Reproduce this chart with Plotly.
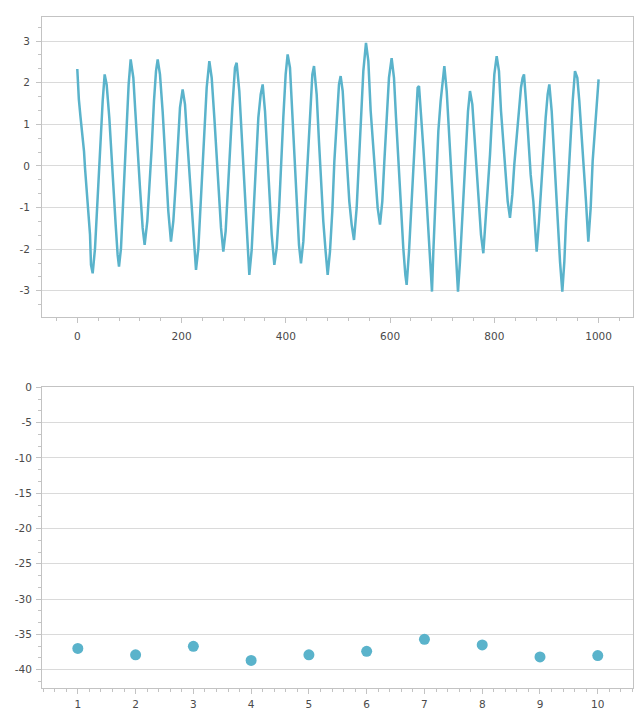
import plotly.graph_objects as go

# ---------------- data ----------------
wave_x = [0, 1, 3, 6, 8.4, 12.9, 14.8, 18, 21.2, 24.4, 26.3, 29.5, 34, 37.2, 42.3, 45.5, 48.7, 52.5,
          56.3, 61.4, 65.9, 69.1, 73.6, 77.4, 80, 83.8, 87, 90.2, 94.7, 98.5, 102.4, 107.5, 111.3,
          115.8, 120.3, 125.4, 129.2, 134.3, 138.2, 142.7, 147.1, 151, 154.2, 158.6, 163.8, 168.2,
          171.4, 174.6, 179.7, 184.2, 188.7, 192.5, 197.0, 202.1, 206.6, 211.1, 216.2, 220.7, 224.5,
          227.7, 232.2, 235.4, 239.8, 243.7, 248.2, 253.3, 257.8, 262.9, 267.4, 271.8, 275.7, 280.1,
          284.6, 288.4, 292.9, 297.4, 302.5, 305.7, 310.8, 315.3, 319.8, 323.6, 326.8, 330.0, 334.5,
          339.3, 342.8, 347.3, 351.8, 355.6, 360.1, 364.5, 368.4, 372.9, 378.0, 382.4, 386.9, 390.8,
          395.2, 399.7, 403.5, 408.0, 411.9, 416.3, 420.8, 425.3, 429.1, 433.6, 438.1, 441.9, 446.4,
          450.9, 454.1, 459.2, 463.6, 467.5, 471.9, 476.4, 480.3, 484.7, 489.2, 493.1, 497.5, 502.0,
          505.2, 509.1, 513.5, 518.0, 521.8, 526.3, 530.8, 535.9, 540.4, 544.2, 548.7, 553.8, 558.3,
          562.8, 567.9, 572.4, 576.2, 580.7, 585.1, 589.0, 593.5, 597.9, 603.0, 607.5, 611.4, 615.8,
          620.9, 625.4, 629.3, 631.8, 636.3, 640.1, 644.6, 649.1, 652.9, 655.5, 659.3, 663.8, 668.3,
          672.1, 676.6, 680.4, 683.0, 686.2, 689.4, 692.6, 697.0, 700.9, 704.1, 708.6, 712.4, 716.2,
          720.1, 723.2, 726.5, 730.3, 734.1, 738.0, 741.8, 745.6, 749.5, 753.3, 757.8, 761.6, 766.1,
          770.6, 774.4, 778.9, 783.4, 787.2, 791.7, 796.1, 800.0, 804.5, 808.9, 812.8, 817.2, 821.7,
          825.6, 830.0, 834.5, 838.3, 842.8, 847.3, 851.1, 854.3, 856.9, 860.7, 865.2, 869.7, 874.8,
          878.0, 881.2, 885.7, 889.5, 894.0, 898.5, 902.3, 905.5, 910.0, 914.4, 918.3, 922.7, 926.0,
          930.4, 934.3, 937.5, 941.9, 946.4, 950.3, 954.7, 959.2, 963.0, 967.5, 972.0, 975.8, 980.3,
          984.8, 988.6, 993.1, 996.3, 1000]
wave_y = [2.33, 1.9, 1.6, 1.2, 0.92, 0.35, -0.05, -0.61, -1.25, -1.65, -2.38, -2.58, -1.98, -1.17,
          -0.21, 0.76, 1.56, 2.2, 1.96, 1.16, 0.11, -0.69, -1.41, -2.14, -2.42, -1.98, -1.09, -0.21,
          0.92, 1.96, 2.56, 2.12, 1.32, 0.27, -0.53, -1.49, -1.9, -1.33, -0.61, 0.43, 1.56, 2.28,
          2.56, 2.2, 1.3, 0.2, -0.45, -1.09, -1.82, -1.33, -0.45, 0.51, 1.40, 1.84, 1.48, 0.59,
          -0.37, -1.33, -2.06, -2.50, -1.98, -1.17, -0.05, 0.92, 1.88, 2.52, 2.12, 1.16, 0.11,
          -0.69, -1.49, -2.06, -1.57, -0.69, 0.43, 1.40, 2.36, 2.48, 1.80, 0.76, -0.29, -1.09,
          -1.82, -2.62, -2.02, -0.77, 0.11, 1.16, 1.72, 1.96, 1.32, 0.19, -0.85, -1.65, -2.38,
          -1.98, -1.09, 0.11, 1.16, 2.20, 2.68, 2.36, 1.32, 0.11, -0.85, -1.90, -2.34, -1.82,
          -0.77, 0.19, 1.16, 2.20, 2.40, 1.72, 0.59, -0.37, -1.33, -2.06, -2.62, -2.06, -1.09,
          0.11, 1.16, 1.96, 2.16, 1.80, 0.84, -0.05, -0.85, -1.41, -1.78, -1.01, 0.11, 1.24, 2.28,
          2.96, 2.52, 1.32, 0.35, -0.37, -1.01, -1.41, -0.85, 0.11, 1.16, 2.12, 2.59, 2.12, 1.16,
          0.11, -0.85, -1.98, -2.62, -2.86, -2.06, -1.09, 0.11, 1.24, 1.88, 1.92, 1.32, 0.43,
          -0.45, -1.33, -2.22, -3.02, -2.06, -1.01, -0.05, 0.84, 1.56, 2.12, 2.40, 1.80, 0.92,
          -0.05, -0.85, -1.65, -2.46, -3.02, -2.30, -1.33, -0.37, 0.59, 1.32, 1.80, 1.48, 0.76,
          -0.05, -0.85, -1.65, -2.10, -1.33, -0.53, 0.27, 1.32, 2.20, 2.64, 2.28, 1.32, 0.51,
          -0.21, -0.85, -1.25, -0.69, 0.03, 0.67, 1.32, 1.88, 2.12, 2.20, 1.56, 0.59, -0.21,
          -0.85, -1.57, -2.06, -1.33, -0.53, 0.27, 1.16, 1.72, 1.96, 1.32, 0.27, -0.69, -1.49,
          -2.30, -3.02, -2.30, -1.33, -0.21, 0.76, 1.56, 2.28, 2.12, 1.56, 0.76, -0.05, -0.85,
          -1.82, -1.01, 0.11, 1.00, 1.56, 2.08]

points_x = [1, 2, 3, 4, 5, 6, 7, 8, 9, 10]
points_y = [-37.0, -37.9, -36.7, -38.7, -37.9, -37.4, -35.7, -36.5, -38.2, -38.0]

# tick values / labels (hyphen minus, as in the reference)
top_x_ticks = [0, 200, 400, 600, 800, 1000]
top_y_ticks = [-3, -2, -1, 0, 1, 2, 3]
bot_x_ticks = [1, 2, 3, 4, 5, 6, 7, 8, 9, 10]
bot_y_ticks = [0, -5, -10, -15, -20, -25, -30, -35, -40]


def labels(vals):
    return [str(v) for v in vals]


# ---------------- styling ----------------
SERIES_COLOR = "#5AB3CB"
AXIS_COLOR = "#c3c3c3"
GRID_COLOR = "#dadada"
FONT = dict(family="DejaVu Sans", size=10.5, color="#4a4a4a")

fig = go.Figure()
fig.add_trace(go.Scatter(x=wave_x, y=wave_y, mode="lines",
                         line=dict(color=SERIES_COLOR, width=2.5),
                         xaxis="x", yaxis="y", showlegend=False, hoverinfo="skip"))
fig.add_trace(go.Scatter(x=points_x, y=points_y, mode="markers",
                         marker=dict(color=SERIES_COLOR, size=11, line=dict(width=0)),
                         xaxis="x2", yaxis="y2", showlegend=False, hoverinfo="skip"))

common = dict(showline=True, linecolor=AXIS_COLOR, linewidth=1, mirror=True,
              ticks="outside", ticklen=5, tickcolor=AXIS_COLOR, zeroline=False,
              tickfont=FONT, automargin=False, tickmode="array")

fig.update_layout(
    template="none",
    width=640, height=711,
    margin=dict(l=42, r=7, t=17, b=23),
    paper_bgcolor="white", plot_bgcolor="white",
    xaxis=dict(domain=[0, 1], anchor="y", range=[-67.7, 1066],
               tickvals=top_x_ticks, ticktext=labels(top_x_ticks),
               showgrid=False, ticklabelstandoff=4,
               minor=dict(dtick=40, tick0=0, ticks="outside", ticklen=3,
                          tickcolor=AXIS_COLOR, showgrid=False), **common),
    yaxis=dict(domain=[0.553, 1], anchor="x", range=[-3.63, 3.58],
               tickvals=top_y_ticks, ticktext=labels(top_y_ticks),
               showgrid=True, gridcolor=GRID_COLOR, gridwidth=1, ticklabelstandoff=4,
               minor=dict(dtick=1/3, tick0=0, ticks="outside", ticklen=3,
                          tickcolor=AXIS_COLOR, showgrid=False), **common),
    xaxis2=dict(domain=[0, 1], anchor="y2", range=[0.38, 10.61],
                tickvals=bot_x_ticks, ticktext=labels(bot_x_ticks),
                showgrid=False, ticklabelstandoff=1,
                minor=dict(dtick=0.2, tick0=0, ticks="outside", ticklen=3,
                           tickcolor=AXIS_COLOR, showgrid=False), **common),
    yaxis2=dict(domain=[0, 0.448], anchor="x2", range=[-42.6, 0],
                tickvals=bot_y_ticks, ticktext=labels(bot_y_ticks),
                showgrid=True, gridcolor=GRID_COLOR, gridwidth=1, ticklabelstandoff=2,
                minor=dict(dtick=5/3, tick0=0, ticks="outside", ticklen=3,
                           tickcolor=AXIS_COLOR, showgrid=False), **common),
)

fig.write_html("out.html",
               config={"displayModeBar": False, "staticPlot": True},
               post_script="document.body.style.margin='0px';document.body.style.overflow='hidden';")
